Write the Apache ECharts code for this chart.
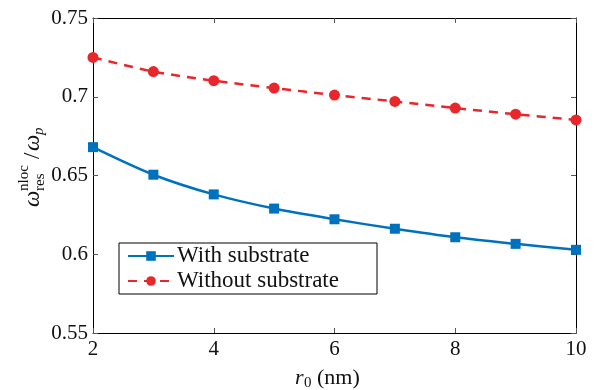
<!DOCTYPE html>
<html>
<head>
<meta charset="utf-8">
<script src="https://cdn.jsdelivr.net/npm/echarts@6/dist/echarts.min.js"></script>
<style>
  html, body { margin: 0; padding: 0; background: #fff; }
  #chart { width: 598px; height: 390px; }
</style>
</head>
<body>
<div id="chart"></div>
<script>
// Particle radius r0 (nm)
const radii = [2, 3, 4, 5, 6, 7, 8, 9, 10];
// Nonlocal resonance frequency normalised by the plasma frequency
const withSubstrate = [0.668, 0.6505, 0.638, 0.629, 0.6222, 0.6162, 0.6108, 0.6066, 0.6028];
const withoutSubstrate = [0.725, 0.716, 0.7102, 0.7055, 0.7011, 0.697, 0.6928, 0.6889, 0.6853];
const seriesNames = ['With substrate', 'Without substrate'];
const xTicks = [2, 4, 6, 8, 10];
const yTicks = [0.55, 0.6, 0.65, 0.7, 0.75];

const SERIF = '"Liberation Serif", "DejaVu Serif", serif';
const BLUE = '#0072BD';
const RED = '#E8262B';

const pairs = (ys) => radii.map((r, i) => [r, ys[i]]);

const tickFmt = (v) => {
  const hit = yTicks.find((t) => Math.abs(t - v) < 1e-9);
  return hit === undefined ? '' : String(hit);
};

const chart = echarts.init(document.getElementById('chart'), null, { renderer: 'canvas' });

const baseAxis = {
  axisLine: { show: true, lineStyle: { color: '#000', width: 1 } },
  axisTick: { show: true, inside: true, length: 5, lineStyle: { color: '#555', width: 1 } },
  splitLine: { show: false },
};

chart.setOption({
  animation: false,
  backgroundColor: '#fff',
  grid: { left: 93, right: 22, top: 18, bottom: 57, containLabel: false },
  xAxis: [
    Object.assign({}, baseAxis, {
      type: 'value', min: xTicks[0], max: xTicks[xTicks.length - 1], interval: 2,
      position: 'bottom',
      axisLabel: { color: '#111', fontFamily: SERIF, fontSize: 21, margin: 6 },
    }),
    Object.assign({}, baseAxis, {
      type: 'value', min: xTicks[0], max: xTicks[xTicks.length - 1], interval: 2,
      position: 'top', axisLabel: { show: false },
    }),
  ],
  yAxis: [
    Object.assign({}, baseAxis, {
      type: 'value', min: yTicks[0], max: yTicks[yTicks.length - 1], interval: 0.05,
      position: 'left',
      axisLabel: { color: '#111', fontFamily: SERIF, fontSize: 21, margin: 5, formatter: tickFmt },
    }),
    Object.assign({}, baseAxis, {
      type: 'value', min: yTicks[0], max: yTicks[yTicks.length - 1], interval: 0.05,
      position: 'right', axisLabel: { show: false },
    }),
  ],
  legend: {
    left: 119, top: 243, orient: 'vertical',
    backgroundColor: '#fff', borderColor: '#000', borderWidth: 1,
    padding: [1, 8, 1, 8], itemGap: 1, itemWidth: 46, itemHeight: 12,
    textStyle: {
      fontFamily: SERIF, fontSize: 23, lineHeight: 24, color: '#111',
      width: 192, overflow: 'none', padding: [0, 0, 0, -2],
    },
    data: seriesNames,
  },
  series: [
    {
      name: seriesNames[0], type: 'line', data: pairs(withSubstrate), smooth: 0.3,
      symbol: 'rect', symbolSize: 10,
      lineStyle: { color: BLUE, width: 2.5 }, itemStyle: { color: BLUE },
    },
    {
      name: seriesNames[1], type: 'line', data: pairs(withoutSubstrate), smooth: 0.3,
      symbol: 'circle', symbolSize: 11,
      lineStyle: { color: RED, width: 2.5, type: [9, 7] }, itemStyle: { color: RED },
    },
  ],
  graphic: [
    // vertical axis title: ω_res^nloc / ω_p
    {
      type: 'group', x: 33, y: 207, rotation: Math.PI / 2,
      children: [
        { type: 'text', x: 0, y: 0, style: { text: 'ω', font: 'italic 23px ' + SERIF, fill: '#111', verticalAlign: 'middle' } },
        { type: 'text', x: 16, y: -9, style: { text: 'nloc', font: '15px ' + SERIF, fill: '#111', verticalAlign: 'middle' } },
        { type: 'text', x: 16, y: 7, style: { text: 'res', font: '15px ' + SERIF, fill: '#111', verticalAlign: 'middle' } },
        { type: 'text', x: 48, y: 0, style: { text: '/', font: '23px ' + SERIF, fill: '#111', verticalAlign: 'middle' } },
        { type: 'text', x: 56, y: 0, style: { text: 'ω', font: 'italic 23px ' + SERIF, fill: '#111', verticalAlign: 'middle' } },
        { type: 'text', x: 72, y: 6, style: { text: 'p', font: 'italic 15px ' + SERIF, fill: '#111', verticalAlign: 'middle' } },
      ],
    },
    // horizontal axis title: r_0 (nm)
    {
      type: 'group', x: 295, y: 378,
      children: [
        { type: 'text', x: 0, y: 0, style: { text: 'r', font: 'italic 22px ' + SERIF, fill: '#111', verticalAlign: 'middle' } },
        { type: 'text', x: 9, y: 5, style: { text: '0', font: '15px ' + SERIF, fill: '#111', verticalAlign: 'middle' } },
        { type: 'text', x: 22, y: 0, style: { text: '(nm)', font: '22px ' + SERIF, fill: '#111', verticalAlign: 'middle' } },
      ],
    },
  ],
});
</script>
</body>
</html>
